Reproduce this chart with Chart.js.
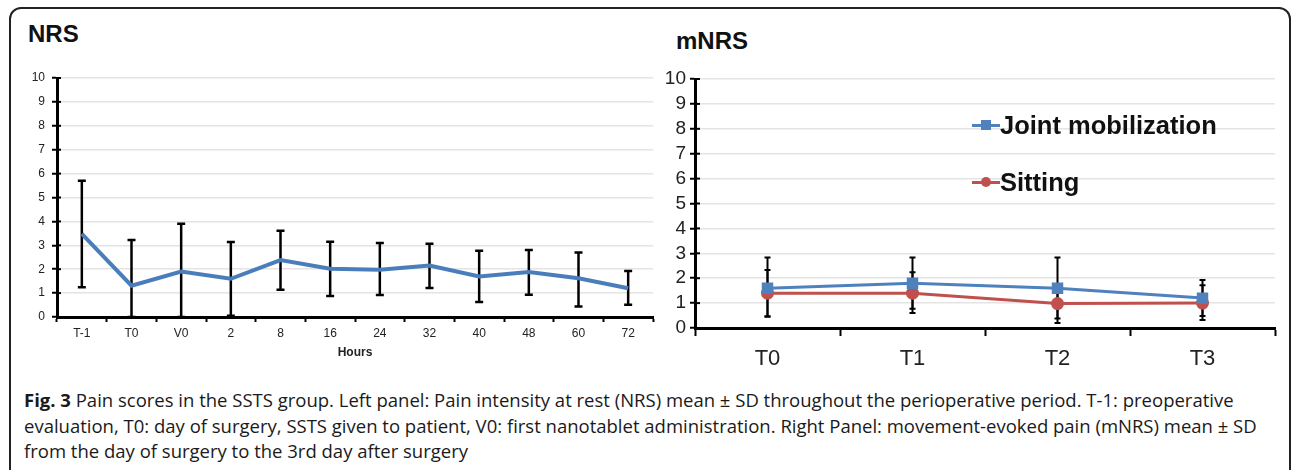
<!DOCTYPE html>
<html>
<head>
<meta charset="utf-8">
<script src="https://cdn.jsdelivr.net/npm/chart.js@4.4.0/dist/chart.umd.min.js"></script>
<style>
  html, body { margin: 0; padding: 0; background: #fff; }
  body { width: 1292px; height: 470px; overflow: hidden; position: relative; font-family: "Liberation Sans", Arial, sans-serif; }
  #frame { position: absolute; left: 9px; top: 7px; width: 1282px; height: 520px; box-sizing: border-box;
           border: 2px solid #222; border-radius: 12px; }
  .title { position: absolute; font-weight: bold; font-size: 24px; color: #111; }
  canvas { position: absolute; }
  .leg { position: absolute; left: 972px; height: 30px; display: flex; align-items: center;
         font-weight: bold; font-size: 25.5px; color: #111; }
  .leg .mk { position: relative; width: 28px; height: 3px; margin-right: 0px; }
  .leg .mk i { position: absolute; left: 9px; top: -4px; width: 10px; height: 10px; }
  #caption { position: absolute; left: 24px; top: 387px; font-family: "Open Sans", sans-serif;
             font-size: 18.5px; line-height: 25.5px; color: #1a1a1a; white-space: nowrap; }
</style>
</head>
<body>
<div id="frame"></div>
<div class="title" style="left:28px; top:20px;">NRS</div>
<div class="title" style="left:676px; top:27px;">mNRS</div>
<canvas id="left" width="660" height="300" style="left:10px; top:60px;"></canvas>
<canvas id="right" width="640" height="310" style="left:650px; top:60px;"></canvas>
<div class="leg" style="top:110px;"><span class="mk" style="background:#4f81bd"><i style="background:#4f81bd"></i></span>Joint mobilization</div>
<div class="leg" style="top:167px;"><span class="mk" style="background:#c0504d"><i style="background:#c0504d; border-radius:50%"></i></span>Sitting</div>
<div id="caption"><b>Fig. 3</b> Pain scores in the SSTS group. Left panel: Pain intensity at rest (NRS) mean ± SD throughout the perioperative period. T-1: preoperative<br>evaluation, T0: day of surgery, SSTS given to patient, V0: first nanotablet administration. Right Panel: movement-evoked pain (mNRS) mean ± SD<br>from the day of surgery to the 3rd day after surgery</div>

<script>

// NRS at rest (left panel)
const nrsLabels = ["T-1", "T0", "V0", "2", "8", "16", "24", "32", "40", "48", "60", "72"];
const nrsMean = [3.48, 1.31, 1.9, 1.6, 2.38, 2.02, 1.98, 2.15, 1.7, 1.88, 1.62, 1.2];
const nrsHigh = [5.7, 3.22, 3.9, 3.14, 3.61, 3.15, 3.1, 3.07, 2.77, 2.8, 2.7, 1.92];
const nrsLow = [1.24, 0, 0, 0.05, 1.14, 0.88, 0.92, 1.21, 0.63, 0.93, 0.44, 0.51];

// mNRS movement-evoked (right panel)
const mnrsLabels = ["T0", "T1", "T2", "T3"];
const jointMean = [1.6, 1.8, 1.6, 1.2];
const jointHigh = [2.83, 2.83, 2.83, 1.93];
const jointLow = [0.45, 0.77, 0.38, 0.48];
const sitMean = [1.4, 1.4, 0.98, 1.0];
const sitHigh = [2.33, 2.24, 1.75, 1.72];
const sitLow = [0.47, 0.6, 0.2, 0.32];

const yTicks = [0, 1, 2, 3, 4, 5, 6, 7, 8, 9, 10];

Chart.defaults.font.family = "'Liberation Sans', Arial, sans-serif";
Chart.defaults.color = "#333";

// draws the SD bars and the inner half of the y axis ticks
const errorBars = {
    id: "errorBars",
    beforeDatasetsDraw(chart, args, opts) {
        const ctx = chart.ctx;
        const y = chart.scales.y;
        ctx.save();
        ctx.strokeStyle = "#000";
        ctx.lineWidth = opts.width;
        chart.data.datasets.forEach((ds, di) => {
            const meta = chart.getDatasetMeta(di);
            meta.data.forEach((pt, i) => {
                const top = y.getPixelForValue(ds.errHigh[i]);
                const bot = y.getPixelForValue(ds.errLow[i]);
                ctx.beginPath();
                ctx.moveTo(pt.x, top);
                ctx.lineTo(pt.x, bot);
                ctx.moveTo(pt.x - opts.cap, top);
                ctx.lineTo(pt.x + opts.cap, top);
                ctx.moveTo(pt.x - opts.cap, bot);
                ctx.lineTo(pt.x + opts.cap, bot);
                ctx.stroke();
            });
        });
        ctx.restore();
    },
    afterDraw(chart, args, opts) {
        const ctx = chart.ctx;
        const y = chart.scales.y;
        const x0 = chart.chartArea.left;
        ctx.save();
        ctx.strokeStyle = "#000";
        ctx.lineWidth = 2;
        y.ticks.forEach((t, i) => {
            const py = y.getPixelForTick(i);
            ctx.beginPath();
            ctx.moveTo(x0, py);
            ctx.lineTo(x0 + opts.inner, py);
            ctx.stroke();
        });
        ctx.restore();
    }
};

function makeScales(o) {
    return {
        x: {
            offset: true,
            grid: { offset: true, drawOnChartArea: false, drawTicks: true, tickLength: o.xTick, tickColor: "#000", tickWidth: 2 },
            border: { display: true, color: "#000", width: o.axisW },
            ticks: { font: { size: o.xFont }, color: "#222", padding: o.xPad, maxRotation: 0, autoSkip: false },
            title: o.xTitle ? { display: true, text: o.xTitle, font: { size: 12, weight: "bold" }, color: "#222", padding: { top: 0, bottom: 0 } } : { display: false },
            afterFit: s => { s.height = o.xH; }
        },
        y: {
            min: 0,
            max: 10,
            afterBuildTicks: s => { s.ticks = yTicks.map(v => ({ value: v })); },
            grid: { color: "#e4e4e4", lineWidth: 1.5, drawTicks: true, tickLength: 5, tickColor: "#000", tickWidth: 2 },
            border: { display: true, color: "#000", width: o.axisW },
            ticks: { font: { size: o.yFont }, color: "#222", padding: o.yPad, autoSkip: false },
            afterFit: s => { s.width = o.yW; }
        }
    };
}

new Chart(document.getElementById("left"), {
    type: "line",
    data: {
        labels: nrsLabels,
        datasets: [{
            label: "NRS",
            data: nrsMean,
            errHigh: nrsHigh,
            errLow: nrsLow,
            borderColor: "#4a7ebb",
            borderWidth: 4,
            pointRadius: 0,
            tension: 0,
            fill: false
        }]
    },
    options: {
        responsive: false,
        animation: false,
        layout: { padding: { left: 0, right: 17, top: 18, bottom: 0 } },
        plugins: {
            legend: { display: false },
            tooltip: { enabled: false },
            errorBars: { width: 2.5, cap: 4, inner: 4 }
        },
        scales: makeScales({ xTick: 5, xFont: 12, xPad: 4, xH: 43, xTitle: "Hours", yFont: 12, yPad: 7, yW: 47, axisW: 3 })
    },
    plugins: [errorBars]
});

new Chart(document.getElementById("right"), {
    type: "line",
    data: {
        labels: mnrsLabels,
        datasets: [{
            label: "Joint mobilization",
            data: jointMean,
            errHigh: jointHigh,
            errLow: jointLow,
            borderColor: "#4f81bd",
            backgroundColor: "#4f81bd",
            borderWidth: 3,
            pointStyle: "rect",
            pointRadius: 6,
            tension: 0
        }, {
            label: "Sitting",
            data: sitMean,
            errHigh: sitHigh,
            errLow: sitLow,
            borderColor: "#c0504d",
            backgroundColor: "#c0504d",
            borderWidth: 3,
            pointStyle: "circle",
            pointRadius: 5,
            tension: 0
        }]
    },
    options: {
        responsive: false,
        animation: false,
        layout: { padding: { left: 0, right: 15, top: 19, bottom: 0 } },
        plugins: {
            legend: { display: false },
            tooltip: { enabled: false },
            errorBars: { width: 2, cap: 3, inner: 5 }
        },
        scales: makeScales({ xTick: 8, xFont: 22, xPad: 10, xH: 42, xTitle: null, yFont: 19, yPad: 4, yW: 45, axisW: 3 })
    },
    plugins: [errorBars]
});

</script>
</body>
</html>
